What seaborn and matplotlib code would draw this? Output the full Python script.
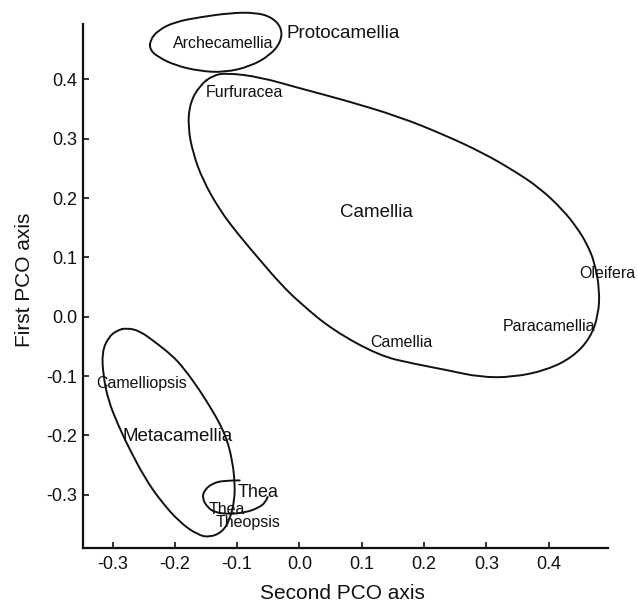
import numpy as np
import matplotlib
matplotlib.use("Agg")
import matplotlib.pyplot as plt
from matplotlib.path import Path
from matplotlib.patches import PathPatch
import seaborn as sns

# outlines (second PCO axis, first PCO axis)
proto_x = [-0.240, -0.227, -0.200, -0.160, -0.112, -0.071, -0.044, -0.028,
           -0.030, -0.047, -0.079, -0.120, -0.160, -0.200, -0.227, -0.240]
proto_y = [0.466, 0.483, 0.497, 0.505, 0.512, 0.513, 0.505, 0.486,
           0.463, 0.441, 0.422, 0.412, 0.414, 0.424, 0.438, 0.450]

camellia_x = [-0.139, -0.116, -0.063, 0.001, 0.073, 0.161, 0.234, 0.295, 0.343,
              0.386, 0.423, 0.445, 0.461, 0.474, 0.482, 0.480, 0.467, 0.439,
              0.397, 0.343, 0.290, 0.237, 0.182, 0.129, 0.054, 0.001, -0.031,
              -0.063, -0.100, -0.128, -0.155, -0.171, -0.179, -0.176, -0.160]
camellia_y = [0.407, 0.411, 0.404, 0.385, 0.365, 0.337, 0.306, 0.276, 0.247,
              0.217, 0.180, 0.151, 0.124, 0.092, 0.045, 0.003, -0.036, -0.068,
              -0.090, -0.102, -0.102, -0.090, -0.079, -0.066, -0.023, 0.023, 0.056,
              0.095, 0.141, 0.180, 0.230, 0.276, 0.320, 0.360, 0.390]

meta_x = [-0.277, -0.256, -0.229, -0.205, -0.187, -0.160, -0.140, -0.128, -0.116,
          -0.108, -0.104, -0.104, -0.112, -0.124, -0.144, -0.163, -0.192, -0.224,
          -0.248, -0.272, -0.291, -0.307, -0.315, -0.317, -0.307, -0.293]
meta_y = [-0.019, -0.024, -0.045, -0.065, -0.085, -0.124, -0.158, -0.180, -0.208,
          -0.242, -0.276, -0.309, -0.343, -0.363, -0.372, -0.368, -0.347, -0.309,
          -0.272, -0.225, -0.183, -0.141, -0.099, -0.060, -0.035, -0.023]

thea_x = [-0.096, -0.120, -0.140, -0.153, -0.156, -0.148, -0.136, -0.112,
          -0.087, -0.067, -0.054, -0.051]
thea_y = [-0.276, -0.276, -0.281, -0.293, -0.306, -0.321, -0.330, -0.333,
          -0.330, -0.323, -0.313, -0.304]

labels = ["Archecamellia", "Protocamellia", "Furfuracea", "Camellia", "Oleifera",
          "Paracamellia", "Camellia", "Camelliopsis", "Metacamellia", "Thea",
          "Thea", "Theopsis"]
label_x = [-0.123, -0.020, -0.150, 0.124, 0.494, 0.400, 0.163, -0.253, -0.195,
           -0.067, -0.116, -0.083]
label_y = [0.460, 0.478, 0.378, 0.176, 0.073, -0.016, -0.043, -0.112, -0.202,
           -0.296, -0.325, -0.347]
label_size = [11.5, 13.5, 11.5, 13.5, 11.5, 11.5, 11.5, 11.5, 13.5, 13, 11.5, 11.5]
label_ha = ["center", "left", "left", "center", "center", "center", "center",
            "center", "center", "center", "center", "center"]

x_ticks = [-0.3, -0.2, -0.1, 0.0, 0.1, 0.2, 0.3, 0.4]
y_ticks = [-0.3, -0.2, -0.1, 0.0, 0.1, 0.2, 0.3, 0.4]


def smooth_path(xs, ys, closed=True):
    # quadratic B-spline through the traced control points
    p = np.column_stack([xs, ys])
    n = len(p)
    verts, codes = [], []
    if closed:
        mid = lambda i: (p[i % n] + p[(i + 1) % n]) / 2
        verts.append(mid(-1)); codes.append(Path.MOVETO)
        for i in range(n):
            verts += [p[i], mid(i)]
            codes += [Path.CURVE3, Path.CURVE3]
    else:
        verts.append(p[0]); codes.append(Path.MOVETO)
        for i in range(1, n - 1):
            end = (p[i] + p[i + 1]) / 2 if i < n - 2 else p[-1]
            verts += [p[i], end]
            codes += [Path.CURVE3, Path.CURVE3]
    return Path(verts, codes)


sns.set_style("ticks")
plt.rcParams["font.family"] = ["Liberation Sans", "DejaVu Sans"]

fig = plt.figure(figsize=(6.37, 6.06), dpi=100)
ax = fig.add_axes([0.1303, 0.0957, 0.8697, 0.9043])
ax.patch.set_alpha(0)

for xs, ys, closed in [(proto_x, proto_y, True), (camellia_x, camellia_y, True),
                       (meta_x, meta_y, True), (thea_x, thea_y, False)]:
    ax.add_patch(PathPatch(smooth_path(xs, ys, closed), fill=False,
                           edgecolor="#111111", lw=1.4, capstyle="round"))

for t, x, y, s, ha in zip(labels, label_x, label_y, label_size, label_ha):
    ax.text(x, y, t, fontsize=s, ha=ha, va="center", color="#111111")

ax.set_xlim(-0.3475, 0.542)
ax.set_ylim(-0.390, 0.534)
ax.set_xticks(x_ticks)
ax.set_yticks(y_ticks)
ax.set_xticklabels([f"{v:.1f}" for v in x_ticks])
ax.set_yticklabels([f"{v:.1f}" for v in y_ticks])
ax.tick_params(axis="both", direction="in", length=4, width=1.2, colors="#111111",
               labelsize=13)
ax.tick_params(axis="x", pad=6)
ax.tick_params(axis="y", pad=4)

sns.despine(ax=ax)
ax.spines["left"].set_bounds(-0.390, 0.493)
ax.spines["bottom"].set_bounds(-0.3475, 0.495)
for s in ["left", "bottom"]:
    ax.spines[s].set_linewidth(1.6)
    ax.spines[s].set_color("#111111")

ax.set_xlabel("Second PCO axis", fontsize=15, color="#111111")
ax.set_ylabel("First PCO axis", fontsize=15, color="#111111")
ax.xaxis.set_label_coords(0.468, -0.066)
ax.yaxis.set_label_coords(-0.088, 0.489)

fig.savefig("out.png", dpi=100)
